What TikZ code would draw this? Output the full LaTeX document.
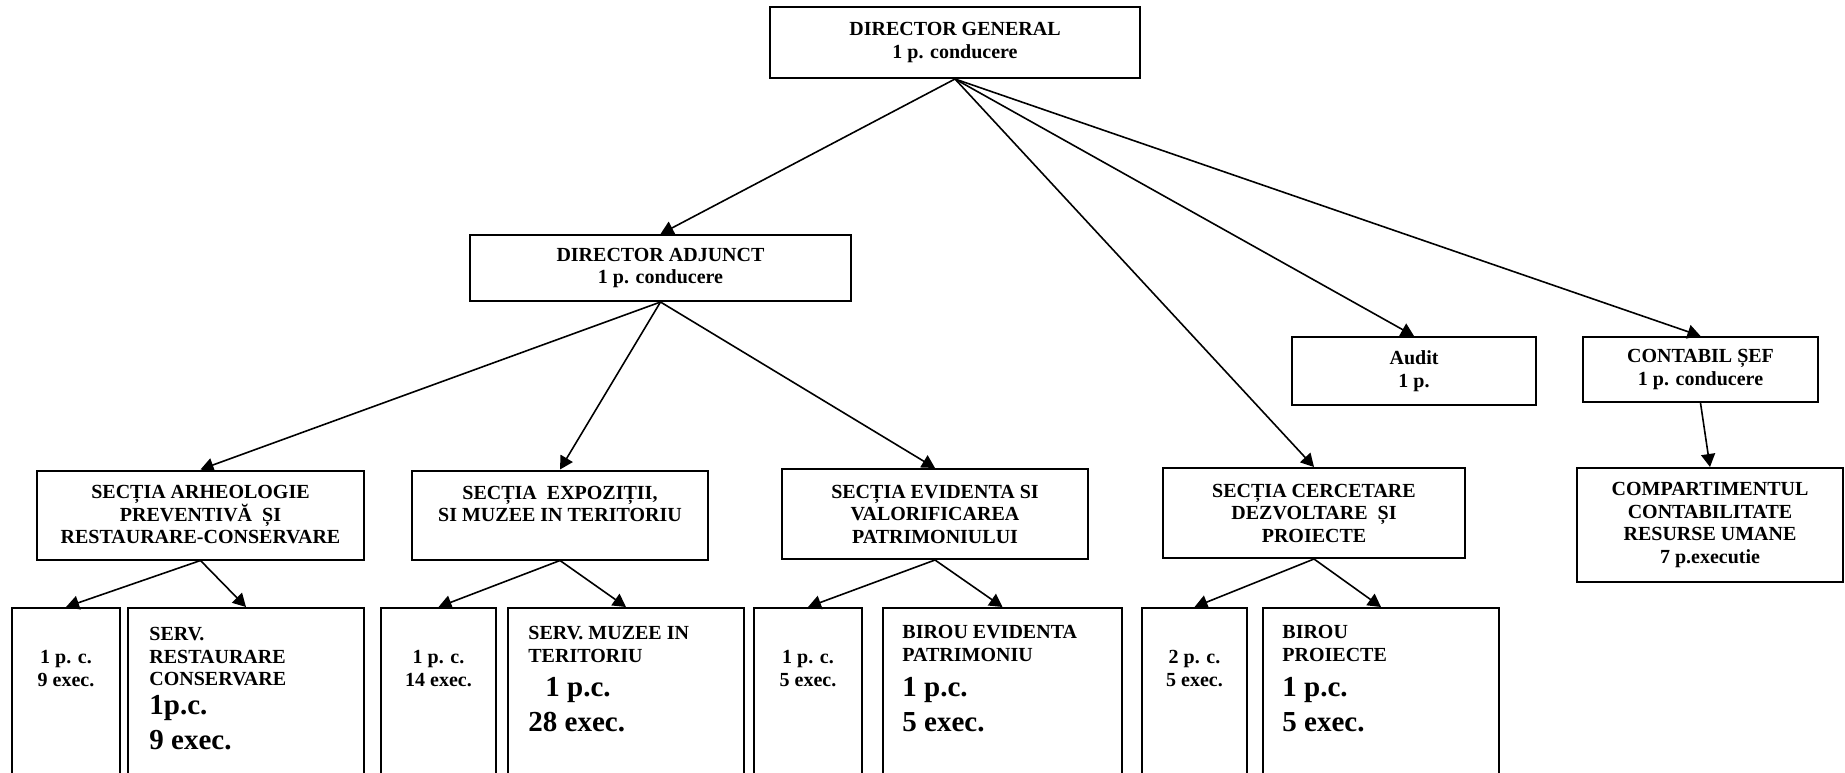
\documentclass[tikz,border=0pt]{standalone}
\usepackage{fontspec}
\setmainfont{Liberation Serif}
\usetikzlibrary{arrows.meta}
\newcommand{\boxfont}{\fontsize{10}{11.25}\selectfont\bfseries}
\newcommand{\numfont}{\fontsize{14.5}{17.5}\selectfont\bfseries}
\tikzset{
    punkt/.style={
           rectangle,
           draw=black, line width=1pt,
           font=\boxfont,
           align=center,
           inner sep=2pt},
    leafbox/.style={
           rectangle,
           draw=black, line width=1pt,
           anchor=north,
           minimum height=110pt},
    leaftxt/.style={font=\boxfont, align=center, anchor=north, inner sep=0pt},
    headtxt/.style={font=\boxfont, align=left, anchor=north west, inner sep=0pt},
    numtxt/.style={font=\numfont, align=left, anchor=north west, inner sep=0pt},
    link/.style={-{Triangle[length=6.5pt,width=7pt]}, line width=0.8pt}
    }

\begin{document}
\begin{tikzpicture}[x=0.5pt,y=-0.5pt]
      \clip (0,0) rectangle (1845,772);
      % conducere
      \node[punkt, minimum width=185pt, minimum height=35.5pt] (dg) at (955,42.5) {DIRECTOR GENERAL\\1 p. conducere};
      \node[punkt, minimum width=190.5pt, minimum height=33pt] (da) at (660.5,268) {DIRECTOR ADJUNCT\\1 p. conducere};
      \node[punkt, minimum width=122pt, minimum height=34pt] (audit) at (1414,371) {Audit\\1 p.};
      \node[punkt, minimum width=117.5pt, minimum height=32.5pt] (contabil) at (1700.5,369.5) {CONTABIL ȘEF\\1 p. conducere};
      \node[punkt, minimum width=133pt, minimum height=57pt] (compart) at (1710,525) {COMPARTIMENTUL\\CONTABILITATE\\RESURSE UMANE\\7 p.executie};
      % sectii
      \node[punkt, minimum width=163.5pt, minimum height=44.5pt] (arheo) at (200.5,515) {SECȚIA ARHEOLOGIE\\PREVENTIVĂ\ \ ȘI\\RESTAURARE-CONSERVARE};
      \node[punkt, minimum width=148pt, minimum height=44.5pt] (expo) at (560,515) {SECȚIA\ \ EXPOZIȚII,\\SI MUZEE IN TERITORIU\\\mbox{}};
      \node[punkt, minimum width=153pt, minimum height=45pt] (evid) at (935,514) {SECȚIA EVIDENTA SI\\VALORIFICAREA\\PATRIMONIULUI};
      \node[punkt, minimum width=151pt, minimum height=45pt] (cerc) at (1314,513) {SECȚIA CERCETARE\\DEZVOLTARE\ \ ȘI\\PROIECTE};
      % servicii si birouri
      \node[leafbox, minimum width=54pt] (b1) at (66,607) {};
      \node[leafbox, minimum width=118pt] (b2) at (246,607) {};
      \node[leafbox, minimum width=57.5pt] (b3) at (438.5,607) {};
      \node[leafbox, minimum width=118pt] (b4) at (626,607) {};
      \node[leafbox, minimum width=54pt] (b5) at (808,607) {};
      \node[leafbox, minimum width=119.5pt] (b6) at (1002.5,607) {};
      \node[leafbox, minimum width=52.5pt] (b7) at (1194.5,607) {};
      \node[leafbox, minimum width=118pt] (b8) at (1381,607) {};
      \node[leaftxt] (b1t) at (66,650) {1 p. c.\\9 exec.};
      \node[headtxt] (b2h) at (149,627) {SERV.\\RESTAURARE\\CONSERVARE};
      \node[numtxt] (b2n) at (149,695) {1p.c.\\9 exec.};
      \node[leaftxt] (b3t) at (438.5,650) {1 p. c.\\14 exec.};
      \node[headtxt] (b4h) at (528,626) {SERV. MUZEE IN\\TERITORIU};
      \node[numtxt] (b4n) at (528,677) {\hspace*{8.5pt}1 p.c.\\28 exec.};
      \node[leaftxt] (b5t) at (808,650) {1 p. c.\\5 exec.};
      \node[headtxt] (b6h) at (902,625) {BIROU EVIDENTA\\PATRIMONIU};
      \node[numtxt] (b6n) at (902,677) {1 p.c.\\5 exec.};
      \node[leaftxt] (b7t) at (1194.5,650) {2 p. c.\\5 exec.};
      \node[headtxt] (b8h) at (1282,625) {BIROU\\PROIECTE};
      \node[numtxt] (b8n) at (1282,677) {1 p.c.\\5 exec.};
      % legaturi
      \draw[link] (dg.south) -- (da.north);
      \draw[link] (dg.south) -- (cerc.north);
      \draw[link] (dg.south) -- (audit.north);
      \draw[link] (dg.south) -- (contabil.north);
      \draw[link] (contabil.south) -- (compart.north);
      \draw[link] (da.south) -- (arheo.north);
      \draw[link] (da.south) -- (expo.north);
      \draw[link] (da.south) -- (evid.north);
      \draw[link] (arheo.south) -- (b1.north);
      \draw[link] (arheo.south) -- (b2.north);
      \draw[link] (expo.south) -- (b3.north);
      \draw[link] (expo.south) -- (b4.north);
      \draw[link] (evid.south) -- (b5.north);
      \draw[link] (evid.south) -- (b6.north);
      \draw[link] (cerc.south) -- (b7.north);
      \draw[link] (cerc.south) -- (b8.north);
\end{tikzpicture}
\end{document}
